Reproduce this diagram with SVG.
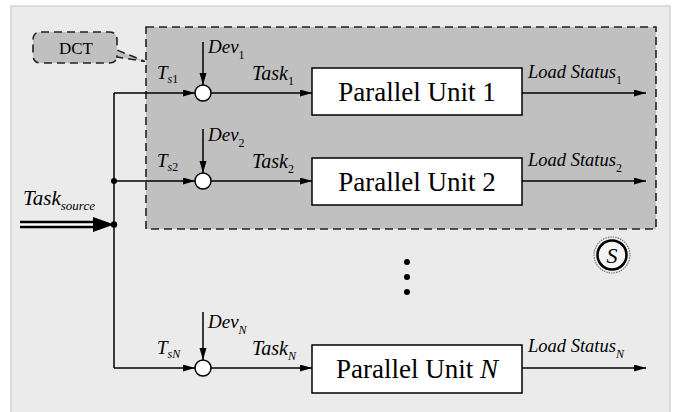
<svg xmlns="http://www.w3.org/2000/svg" width="675" height="412" viewBox="0 0 675 412">
<defs>
<marker id="ah" markerUnits="userSpaceOnUse" markerWidth="13" markerHeight="8" refX="12" refY="3.5" orient="auto">
<path d="M0,0 L12,3.5 L0,7 z" fill="#000"/>
</marker>
<style>
.ln{stroke:#000;stroke-width:1.5;fill:none}
.dash{stroke:#222;stroke-width:1.6;stroke-dasharray:8 5}
.box{fill:#fff;stroke:#000;stroke-width:1.5}
.sum{fill:#fff;stroke:#000;stroke-width:1.5}
.it{font-style:italic}
.rm{font-style:normal}
.lbl{font-size:19px}
.sub{font-size:12px}
.unit{font-size:27px}
</style>
</defs>
<rect x="11" y="6" width="659" height="410" fill="#ebebeb" stroke="#d4d4d4" stroke-width="1.5"/>
<g id="parallel-group">
<rect x="146" y="27" width="510" height="202" fill="#c0c0c0" class="dash"/>
</g>
<g font-family="Liberation Serif, DejaVu Serif, Times New Roman, serif" fill="#000">
<g id="dct">
<path d="M41,32 H109 Q117,32 117,40 V50 L145,61.5 L117,57 V55 Q117,63 109,63 H41 Q33,63 33,55 V40 Q33,32 41,32 Z" fill="#c0c0c0" class="dash"/>
<text x="76" y="54" class="rm" font-size="17" text-anchor="middle">DCT</text>
</g>
<g id="connectors">
<line x1="20" y1="224.5" x2="98" y2="224.5" stroke="#000" stroke-width="7.5"/>
<line x1="20" y1="224.5" x2="98" y2="224.5" stroke="#fff" stroke-width="2.5"/>
<path d="M93,217 L114,224.5 L93,232 z" fill="#000"/>
<path class="ln" d="M114,368 V93"/>
<path class="ln" d="M114,93 H195" marker-end="url(#ah)"/>
<path class="ln" d="M114,181 H195" marker-end="url(#ah)"/>
<path class="ln" d="M114,368 H195" marker-end="url(#ah)"/>
<path class="ln" d="M203,42 V85" marker-end="url(#ah)"/>
<path class="ln" d="M203,129 V173" marker-end="url(#ah)"/>
<path class="ln" d="M203,312 V360" marker-end="url(#ah)"/>
<path class="ln" d="M211,93 H312" marker-end="url(#ah)"/>
<path class="ln" d="M211,181 H312" marker-end="url(#ah)"/>
<path class="ln" d="M211,368 H312" marker-end="url(#ah)"/>
<path class="ln" d="M522,93 H646" marker-end="url(#ah)"/>
<path class="ln" d="M522,181 H646" marker-end="url(#ah)"/>
<path class="ln" d="M522,368 H646" marker-end="url(#ah)"/>
<circle cx="114" cy="181" r="3"/>
<circle cx="114" cy="224.5" r="3.2"/>
</g>
<g id="sum1"><circle class="sum" cx="203" cy="93" r="8"/></g>
<g id="sum2"><circle class="sum" cx="203" cy="181" r="8"/></g>
<g id="sumN"><circle class="sum" cx="203" cy="368" r="8"/></g>
<g id="unit1">
<rect class="box" x="312" y="68" width="210" height="47"/>
<text x="417" y="101" class="rm unit" text-anchor="middle">Parallel Unit 1</text>
</g>
<g id="unit2">
<rect class="box" x="312" y="158" width="210" height="47"/>
<text x="417" y="191" class="rm unit" text-anchor="middle">Parallel Unit 2</text>
</g>
<g id="unitN">
<rect class="box" x="312" y="345" width="210" height="48"/>
<text x="417" y="378" class="rm unit" text-anchor="middle">Parallel Unit <tspan class="it">N</tspan></text>
</g>
<g id="labels">
<text x="23" y="205" class="it" font-size="21">Task<tspan font-size="13" dy="5">source</tspan></text>
<text x="157" y="79" class="it lbl">T<tspan class="sub" dy="4">s</tspan><tspan class="sub rm">1</tspan></text>
<text x="157" y="167" class="it lbl">T<tspan class="sub" dy="4">s</tspan><tspan class="sub rm">2</tspan></text>
<text x="157" y="354" class="it lbl">T<tspan class="sub" dy="4">sN</tspan></text>
<text x="208" y="53" class="it lbl">Dev<tspan class="sub rm" dy="6">1</tspan></text>
<text x="208" y="141" class="it lbl">Dev<tspan class="sub rm" dy="6">2</tspan></text>
<text x="208" y="328" class="it lbl">Dev<tspan class="sub" dy="6">N</tspan></text>
<text x="252" y="80" class="it" font-size="20">Task<tspan class="sub rm" dy="5">1</tspan></text>
<text x="252" y="168" class="it" font-size="20">Task<tspan class="sub rm" dy="5">2</tspan></text>
<text x="252" y="355" class="it" font-size="20">Task<tspan class="sub" dy="5">N</tspan></text>
<text x="528" y="78" class="it" font-size="18.5">Load Status<tspan class="sub rm" dy="6">1</tspan></text>
<text x="528" y="166" class="it" font-size="18.5">Load Status<tspan class="sub rm" dy="6">2</tspan></text>
<text x="528" y="352" class="it" font-size="18.5">Load Status<tspan class="sub" dy="6">N</tspan></text>
</g>
<g id="ellipsis">
<circle cx="407" cy="262" r="3"/>
<circle cx="407" cy="277" r="3"/>
<circle cx="407" cy="292" r="3"/>
</g>
<g id="s-symbol">
<circle cx="612" cy="255" r="18" fill="none" stroke="#777" stroke-width="1.2" stroke-dasharray="1.5 1"/>
<circle cx="612" cy="255" r="14.5" fill="#f4f4f4" stroke="#000" stroke-width="2.5"/>
<text x="612" y="262.5" class="it" font-size="22" text-anchor="middle">S</text>
</g>
</g>
</svg>
